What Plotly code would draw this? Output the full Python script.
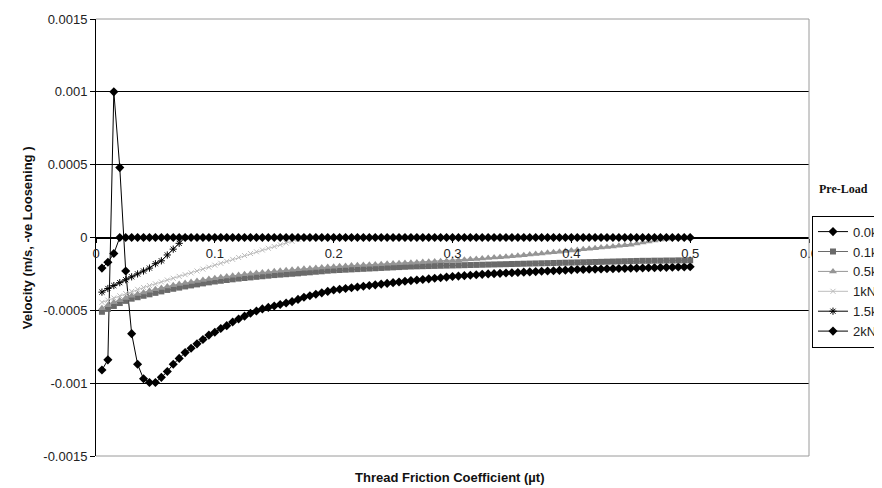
import plotly.graph_objects as go

# Thread friction coefficient (x values, shared by all series)
mu_t = [0.005, 0.01, 0.015, 0.02, 0.025, 0.03, 0.035, 0.04, 0.045, 0.05,
        0.055, 0.06, 0.065, 0.07, 0.075, 0.08, 0.085, 0.09, 0.095, 0.1,
        0.105, 0.11, 0.115, 0.12, 0.125, 0.13, 0.135, 0.14, 0.145, 0.15,
        0.155, 0.16, 0.165, 0.17, 0.175, 0.18, 0.185, 0.19, 0.195, 0.2,
        0.205, 0.21, 0.215, 0.22, 0.225, 0.23, 0.235, 0.24, 0.245, 0.25,
        0.255, 0.26, 0.265, 0.27, 0.275, 0.28, 0.285, 0.29, 0.295, 0.3,
        0.305, 0.31, 0.315, 0.32, 0.325, 0.33, 0.335, 0.34, 0.345, 0.35,
        0.355, 0.36, 0.365, 0.37, 0.375, 0.38, 0.385, 0.39, 0.395, 0.4,
        0.405, 0.41, 0.415, 0.42, 0.425, 0.43, 0.435, 0.44, 0.445, 0.45,
        0.455, 0.46, 0.465, 0.47, 0.475, 0.48, 0.485, 0.49, 0.495, 0.5]

v_0kN = [-9.1e-4, -8.4e-4, 10.0e-4, 4.8e-4, -2.3e-4, -6.6e-4, -8.7e-4, -9.7e-4, -9.95e-4, -9.95e-4,
         -9.6e-4, -9.2e-4, -8.7e-4, -8.3e-4, -7.9e-4, -7.6e-4, -7.3e-4, -7.0e-4, -6.7e-4, -6.5e-4,
         -6.25e-4, -6.05e-4, -5.8e-4, -5.6e-4, -5.4e-4, -5.2e-4, -5.05e-4, -4.9e-4, -4.8e-4, -4.7e-4,
         -4.6e-4, -4.5e-4, -4.4e-4, -4.25e-4, -4.1e-4, -4.0e-4, -3.9e-4, -3.8e-4, -3.7e-4, -3.6e-4,
         -3.55e-4, -3.5e-4, -3.45e-4, -3.4e-4, -3.35e-4, -3.3e-4, -3.25e-4, -3.2e-4, -3.15e-4, -3.1e-4,
         -3.05e-4, -3.0e-4, -2.96e-4, -2.92e-4, -2.88e-4, -2.84e-4, -2.8e-4, -2.76e-4, -2.72e-4, -2.68e-4,
         -2.65e-4, -2.62e-4, -2.59e-4, -2.56e-4, -2.53e-4, -2.5e-4, -2.48e-4, -2.46e-4, -2.44e-4, -2.42e-4,
         -2.4e-4, -2.38e-4, -2.36e-4, -2.34e-4, -2.32e-4, -2.3e-4, -2.28e-4, -2.26e-4, -2.24e-4, -2.22e-4,
         -2.2e-4, -2.19e-4, -2.18e-4, -2.17e-4, -2.16e-4, -2.15e-4, -2.14e-4, -2.13e-4, -2.12e-4, -2.11e-4,
         -2.1e-4, -2.09e-4, -2.08e-4, -2.07e-4, -2.06e-4, -2.05e-4, -2.04e-4, -2.03e-4, -2.02e-4, -2.01e-4]

v_01kN = [-5.1e-4, -4.9e-4, -4.7e-4, -4.5e-4, -4.35e-4, -4.2e-4, -4.1e-4, -4.0e-4, -3.9e-4, -3.8e-4,
          -3.7e-4, -3.6e-4, -3.52e-4, -3.44e-4, -3.36e-4, -3.29e-4, -3.22e-4, -3.15e-4, -3.08e-4, -3.02e-4,
          -2.97e-4, -2.92e-4, -2.87e-4, -2.82e-4, -2.78e-4, -2.74e-4, -2.7e-4, -2.66e-4, -2.62e-4, -2.58e-4,
          -2.55e-4, -2.52e-4, -2.49e-4, -2.46e-4, -2.42e-4, -2.39e-4, -2.35e-4, -2.32e-4, -2.28e-4, -2.25e-4,
          -2.23e-4, -2.21e-4, -2.19e-4, -2.17e-4, -2.15e-4, -2.13e-4, -2.11e-4, -2.09e-4, -2.07e-4, -2.05e-4,
          -2.03e-4, -2.01e-4, -1.99e-4, -1.98e-4, -1.97e-4, -1.96e-4, -1.95e-4, -1.94e-4, -1.93e-4, -1.92e-4,
          -1.91e-4, -1.9e-4, -1.89e-4, -1.88e-4, -1.87e-4, -1.86e-4, -1.85e-4, -1.84e-4, -1.83e-4, -1.82e-4,
          -1.81e-4, -1.8e-4, -1.79e-4, -1.78e-4, -1.77e-4, -1.76e-4, -1.75e-4, -1.74e-4, -1.73e-4, -1.72e-4,
          -1.71e-4, -1.7e-4, -1.69e-4, -1.68e-4, -1.67e-4, -1.66e-4, -1.65e-4, -1.64e-4, -1.63e-4, -1.62e-4,
          -1.61e-4, -1.6e-4, -1.6e-4, -1.59e-4, -1.59e-4, -1.58e-4, -1.58e-4, -1.57e-4, -1.57e-4, -1.56e-4]

v_05kN = [-4.85e-4, -4.65e-4, -4.45e-4, -4.3e-4, -4.15e-4, -4.0e-4, -3.88e-4, -3.77e-4, -3.66e-4, -3.56e-4,
          -3.46e-4, -3.37e-4, -3.28e-4, -3.2e-4, -3.12e-4, -3.05e-4, -2.98e-4, -2.91e-4, -2.85e-4, -2.79e-4,
          -2.73e-4, -2.68e-4, -2.63e-4, -2.58e-4, -2.53e-4, -2.48e-4, -2.44e-4, -2.4e-4, -2.36e-4, -2.32e-4,
          -2.28e-4, -2.24e-4, -2.21e-4, -2.18e-4, -2.15e-4, -2.12e-4, -2.09e-4, -2.06e-4, -2.03e-4, -2.0e-4,
          -1.97e-4, -1.95e-4, -1.93e-4, -1.91e-4, -1.89e-4, -1.87e-4, -1.85e-4, -1.83e-4, -1.81e-4, -1.79e-4,
          -1.77e-4, -1.75e-4, -1.73e-4, -1.71e-4, -1.69e-4, -1.67e-4, -1.65e-4, -1.63e-4, -1.61e-4, -1.59e-4,
          -1.56e-4, -1.53e-4, -1.5e-4, -1.47e-4, -1.44e-4, -1.41e-4, -1.38e-4, -1.35e-4, -1.32e-4, -1.29e-4,
          -1.25e-4, -1.21e-4, -1.17e-4, -1.13e-4, -1.09e-4, -1.05e-4, -1.01e-4, -0.97e-4, -0.93e-4, -0.89e-4,
          -0.85e-4, -0.81e-4, -0.77e-4, -0.73e-4, -0.69e-4, -0.65e-4, -0.61e-4, -0.57e-4, -0.53e-4, -0.49e-4,
          -0.42e-4, -0.35e-4, -0.28e-4, -0.21e-4, -0.14e-4, -0.08e-4, -0.04e-4, -0.02e-4, -0.01e-4, 0.0]

v_1kN = [-4.45e-4, -4.3e-4, -4.15e-4, -4.0e-4, -3.85e-4, -3.7e-4, -3.56e-4, -3.43e-4, -3.3e-4, -3.18e-4,
         -3.05e-4, -2.92e-4, -2.8e-4, -2.67e-4, -2.55e-4, -2.43e-4, -2.3e-4, -2.17e-4, -2.04e-4, -1.9e-4,
         -1.77e-4, -1.64e-4, -1.5e-4, -1.37e-4, -1.24e-4, -1.1e-4, -0.98e-4, -0.86e-4, -0.74e-4, -0.62e-4,
         -0.5e-4, -0.38e-4, -0.26e-4, -0.14e-4, 0.0]

v_15kN = [-3.75e-4, -3.5e-4, -3.3e-4, -3.1e-4, -2.9e-4, -2.7e-4, -2.5e-4, -2.3e-4, -2.1e-4, -1.8e-4,
          -1.6e-4, -1.2e-4, -0.8e-4, -0.4e-4, 0.0]

v_2kN = [-2.1e-4, -1.7e-4, -1.1e-4, 0.0, 0.0, 0.0, 0.0, 0.0, 0.0, 0.0,
         0.0, 0.0, 0.0, 0.0, 0.0, 0.0, 0.0, 0.0, 0.0, 0.0,
         0.0, 0.0, 0.0, 0.0, 0.0, 0.0, 0.0, 0.0, 0.0, 0.0,
         0.0, 0.0, 0.0, 0.0, 0.0, 0.0, 0.0, 0.0, 0.0, 0.0,
         0.0, 0.0, 0.0, 0.0, 0.0, 0.0, 0.0, 0.0, 0.0, 0.0,
         0.0, 0.0, 0.0, 0.0, 0.0, 0.0, 0.0, 0.0, 0.0, 0.0,
         0.0, 0.0, 0.0, 0.0, 0.0, 0.0, 0.0, 0.0, 0.0, 0.0,
         0.0, 0.0, 0.0, 0.0, 0.0, 0.0, 0.0, 0.0, 0.0, 0.0,
         0.0, 0.0, 0.0, 0.0, 0.0, 0.0, 0.0, 0.0, 0.0, 0.0,
         0.0, 0.0, 0.0, 0.0, 0.0, 0.0, 0.0, 0.0, 0.0, 0.0]

y_tickvals = [0.0015, 0.001, 0.0005, 0, -0.0005, -0.001, -0.0015]
y_ticktext = ["0.0015", "0.001", "0.0005", "0", "-0.0005", "-0.001", "-0.0015"]
x_tickvals = [0, 0.1, 0.2, 0.3, 0.4, 0.5, 0.6]
x_ticktext = ["0", "0.1", "0.2", "0.3", "0.4", "0.5", "0.6"]

series = [
    ("0.0kN", v_0kN, dict(symbol="diamond", size=7, color="black"), "black"),
    ("0.1kN", v_01kN, dict(symbol="square", size=6, color="#6a6a6a"), "#6a6a6a"),
    ("0.5kN", v_05kN, dict(symbol="triangle-up", size=7, color="#959595"), "#959595"),
    ("1kN", v_1kN, dict(symbol="x-thin-open", size=5, color="#bdbdbd",
                        line=dict(color="#bdbdbd", width=1)), "#bdbdbd"),
    ("1.5kN", v_15kN, dict(symbol="asterisk-open", size=6, color="black",
                           line=dict(color="black", width=1)), "black"),
    ("2kN", v_2kN, dict(symbol="diamond", size=7, color="black"), "black"),
]

fig = go.Figure()
for name, vals, marker, lc in series:
    fig.add_trace(go.Scatter(
        x=mu_t[:len(vals)], y=vals, name=name, mode="lines+markers",
        line=dict(color=lc, width=1), marker=marker))

font_ax = dict(family="Liberation Sans, Arial, sans-serif", size=13, color="#222222")

fig.update_layout(
    width=874, height=480,
    margin=dict(l=88, r=73, t=11, b=32, autoexpand=False),
    paper_bgcolor="white", plot_bgcolor="white",
    font=font_ax,
    showlegend=True,
    legend=dict(x=1.0042, y=0.55, xanchor="left", yanchor="top",
                bordercolor="black", borderwidth=1, bgcolor="white",
                font=dict(family="Liberation Sans, Arial, sans-serif", size=13, color="#222222"),
                tracegroupgap=0),
    xaxis=dict(range=[0, 0.6], tickvals=x_tickvals, ticktext=x_ticktext,
               showgrid=False, zeroline=False, showline=True, linecolor="black", linewidth=1,
               ticks="outside", ticklen=4, tickcolor="black",
               anchor="free", position=0.5, tickfont=font_ax),
    yaxis=dict(range=[-0.0015, 0.0015], tickvals=y_tickvals, ticktext=y_ticktext,
               showgrid=True, gridcolor="black", gridwidth=1, zeroline=False,
               showline=True, linecolor="black", linewidth=1,
               ticks="outside", ticklen=5, tickcolor="black", tickfont=font_ax),
    shapes=[
        dict(type="line", xref="paper", yref="paper", x0=0, x1=1, y0=1, y1=1,
             line=dict(color="#9a9a9a", width=1), layer="above"),
        dict(type="line", xref="paper", yref="paper", x0=0, x1=1, y0=0, y1=0,
             line=dict(color="#9a9a9a", width=1), layer="above"),
        dict(type="line", xref="paper", yref="paper", x0=1, x1=1, y0=0, y1=1,
             line=dict(color="#9a9a9a", width=1), layer="above"),
    ],
    annotations=[
        dict(text="<b>Velocity (m/s, -ve Loosening )</b>", xref="paper", yref="paper",
             x=-0.109, y=0.5, textangle=-90, showarrow=False,
             font=dict(family="Liberation Sans, Arial, sans-serif", size=13, color="#111111")),
        dict(text="<b>Thread Friction Coefficient (µt)</b>", xref="paper", yref="paper",
             x=0.4965, y=-0.05, xanchor="center", yanchor="middle", showarrow=False,
             font=dict(family="Liberation Sans, Arial, sans-serif", size=13, color="#111111")),
        dict(text="<b>Pre-Load</b>", xref="paper", yref="paper",
             x=1.0112, y=0.611, xanchor="left", yanchor="middle", showarrow=False,
             font=dict(family="Liberation Serif, Times New Roman, serif", size=12, color="#111111")),
    ],
)

fig.write_html("out.html")
